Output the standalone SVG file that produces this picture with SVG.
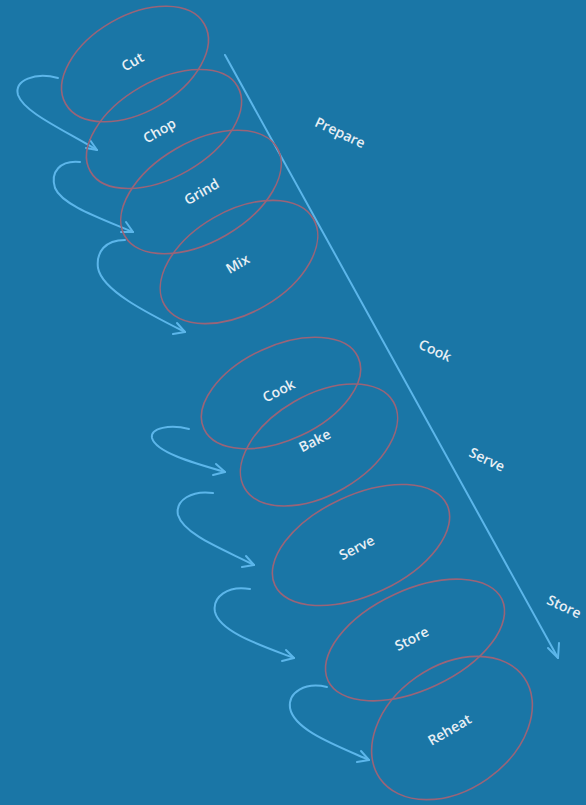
<svg xmlns="http://www.w3.org/2000/svg" width="586" height="805" viewBox="0 0 586 805">
<defs>
<style>
.bg{fill:#1a76a6}
.ov{fill:none;stroke:#9a6478;stroke-width:1.6}
.lb{font-family:"Open Sans","Liberation Sans",sans-serif;font-size:14px;font-weight:600;fill:#e8eff4;text-anchor:middle}
.ar{fill:none;stroke:#5cb6ea;stroke-width:2;stroke-linecap:round;stroke-linejoin:round}
</style>
</defs>
<rect class="bg" x="0" y="0" width="586" height="805"/>
<g id="connectors">
<path class="ar" d="M225,55 L558,658"/>
<path class="ar" d="M548,648 L558,658 L559,643"/>
<path class="ar" d="M58,78 C35,72 14,80 18,95 C24,112 60,128 97,150"/>
<path class="ar" d="M86,148 L97,150 L90,140"/>
<path class="ar" d="M80,162 C60,160 50,172 55,188 C62,205 100,218 133,232"/>
<path class="ar" d="M121,232 L133,232 L126,222"/>
<path class="ar" d="M125,240 C105,240 96,252 98,268 C102,290 145,312 185,332"/>
<path class="ar" d="M173,334 L185,332 L177,323"/>
<path class="ar" d="M189,429 C170,424 150,428 152,438 C156,452 190,462 225,472"/>
<path class="ar" d="M213,475 L225,472 L216,464"/>
<path class="ar" d="M213,493 C192,490 175,500 178,515 C184,535 225,550 254,565"/>
<path class="ar" d="M242,567 L254,565 L246,556"/>
<path class="ar" d="M250,589 C228,585 212,597 215,612 C220,632 260,645 294,658"/>
<path class="ar" d="M282,661 L294,658 L286,650"/>
<path class="ar" d="M327,687 C305,682 288,692 290,708 C294,730 335,745 369,760"/>
<path class="ar" d="M357,762 L369,760 L361,751"/>
</g>
<g id="cut"><ellipse class="ov" cx="135" cy="64" rx="80" ry="48" transform="rotate(-30 135 64)"/><text class="lb" transform="translate(135,66) rotate(-30)">Cut</text></g>
<g id="chop"><ellipse class="ov" cx="164" cy="129" rx="85" ry="48" transform="rotate(-30 164 129)"/><text class="lb" transform="translate(162,135) rotate(-30)">Chop</text></g>
<g id="grind"><ellipse class="ov" cx="201" cy="192" rx="88" ry="50" transform="rotate(-30 201 192)"/><text class="lb" transform="translate(204,196) rotate(-30)">Grind</text></g>
<g id="mix"><ellipse class="ov" cx="239" cy="262" rx="86" ry="51" transform="rotate(-30 239 262)"/><text class="lb" transform="translate(240,268) rotate(-30)">Mix</text></g>
<g id="cook"><ellipse class="ov" cx="281" cy="393" rx="85" ry="47" transform="rotate(-25 281 393)"/><text class="lb" transform="translate(281,395) rotate(-27)">Cook</text></g>
<g id="bake"><ellipse class="ov" cx="319" cy="445" rx="86" ry="50" transform="rotate(-30 319 445)"/><text class="lb" transform="translate(317,445) rotate(-27)">Bake</text></g>
<g id="serve"><ellipse class="ov" cx="361" cy="545" rx="95" ry="50" transform="rotate(-25 361 545)"/><text class="lb" transform="translate(359,552) rotate(-27)">Serve</text></g>
<g id="store"><ellipse class="ov" cx="415" cy="640" rx="96" ry="50" transform="rotate(-25 415 640)"/><text class="lb" transform="translate(414,643) rotate(-27)">Store</text></g>
<g id="reheat"><ellipse class="ov" cx="452" cy="728" rx="88" ry="62" transform="rotate(-35 452 728)"/><text class="lb" transform="translate(452,734) rotate(-30)">Reheat</text></g>
<g id="phases">
<text class="lb" transform="translate(338,137) rotate(25)">Prepare</text>
<text class="lb" transform="translate(433,355) rotate(25)">Cook</text>
<text class="lb" transform="translate(485,464) rotate(25)">Serve</text>
<text class="lb" transform="translate(562,611) rotate(25)">Store</text>
</g>
</svg>
